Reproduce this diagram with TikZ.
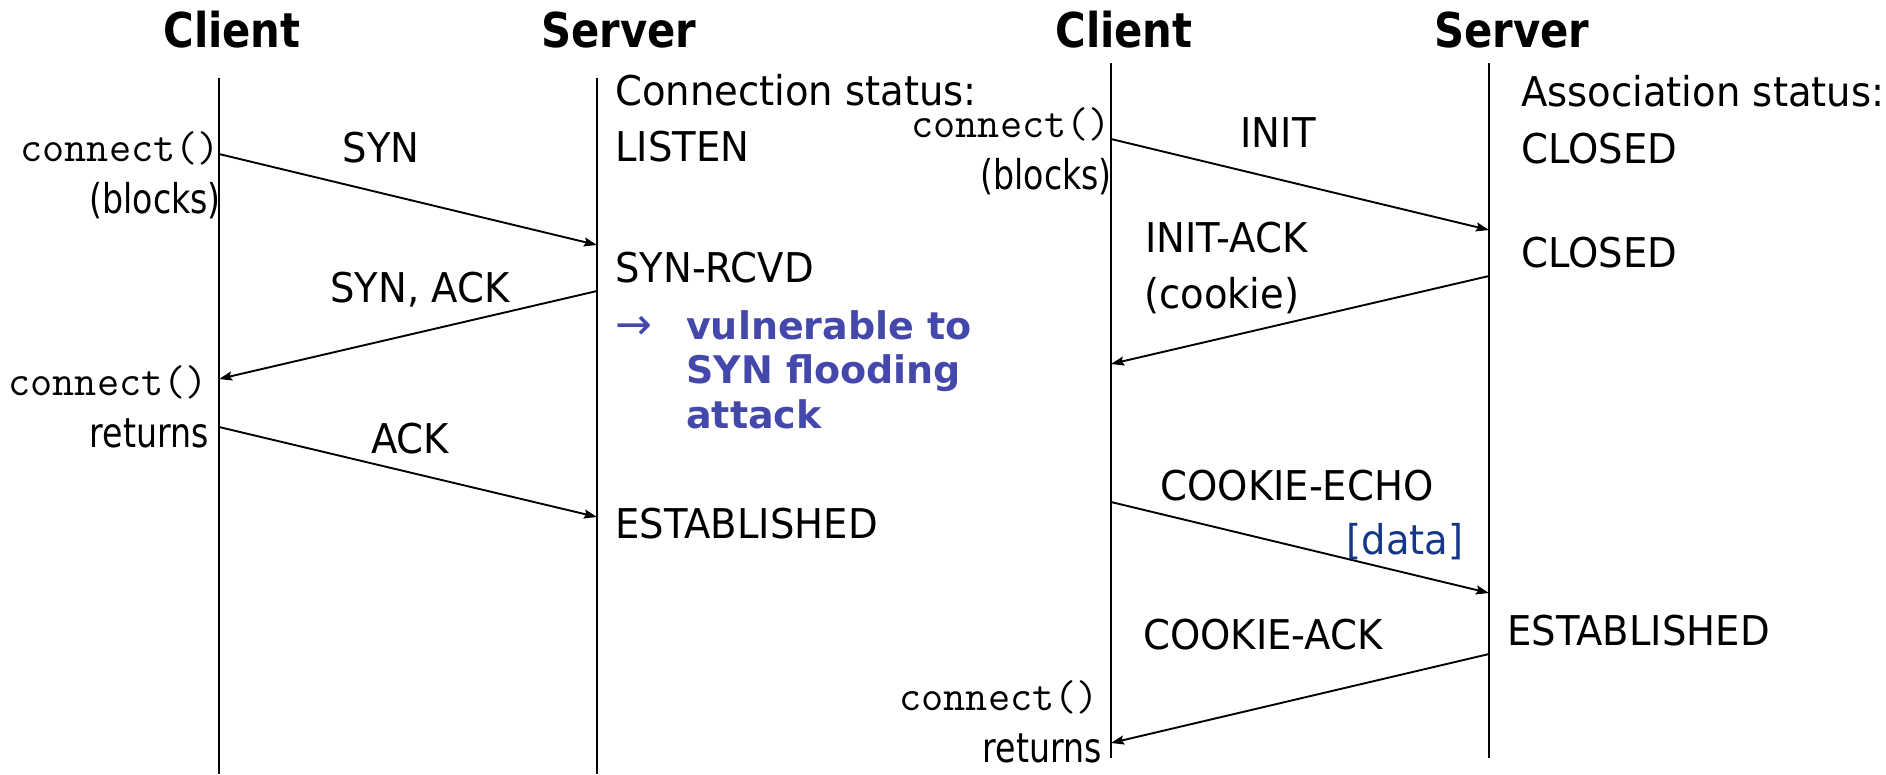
\documentclass[tikz,border=0pt]{standalone}
\usepackage{fontspec}
\setmainfont{DejaVu Sans}[FakeStretch=0.94]
\newfontfamily\lowfont{DejaVu Sans}[FakeStretch=0.81]
\newfontfamily\titlefont{DejaVu Sans}[FakeStretch=0.87]
\newfontfamily\warnfont{DejaVu Sans}[FakeStretch=1.0]
\newfontfamily\symfont{DejaVu Sans}
\usetikzlibrary{arrows.meta}
\definecolor{warnblue}{RGB}{68,72,170}
\definecolor{datablue}{RGB}{20,55,140}
\tikzset{
  txt/.style={inner sep=0pt, font=\fontsize{41}{48}\selectfont},
  lowtxt/.style={inner sep=0pt, font=\lowfont\fontsize{41}{48}\selectfont},
  code/.style={inner sep=0pt, font=\ttfamily\fontsize{43}{50}\selectfont},
  heading/.style={inner sep=0pt, font=\titlefont\bfseries\fontsize{48}{56}\selectfont},
  warn/.style={inner sep=0pt, text=warnblue, font=\warnfont\bfseries\fontsize{38}{44}\selectfont},
  lifeline/.style={line width=1.9pt},
  msg/.style={line width=1.9pt, -{Stealth[length=13pt, width=9pt, inset=2pt]}}
}
\begin{document}
\begin{tikzpicture}[x=1pt, y=-1pt]
\useasboundingbox (0,0) rectangle (1886,774);

% ---------- TCP handshake ----------
\node[heading, anchor=base] (tcpclient) at (232,47) {Client};
\node[heading, anchor=base] (tcpserver) at (619,47) {Server};

\coordinate (tcA) at (219,78);   \coordinate (tcZ) at (219,774);
\coordinate (tsA) at (597,78);   \coordinate (tsZ) at (597,774);
\draw[lifeline] (tcA) -- (tcZ);
\draw[lifeline] (tsA) -- (tsZ);

\coordinate (tc1) at (219,154);  \coordinate (ts1) at (597,245);
\coordinate (ts2) at (597,291);  \coordinate (tc2) at (219,379);
\coordinate (tc3) at (219,427);  \coordinate (ts3) at (597,517);
\draw[msg] (tc1) -- (ts1);
\draw[msg] (ts2) -- (tc2);
\draw[msg] (tc3) -- (ts3);

\node[txt, anchor=base] (syn) at (381,162) {SYN};
\node[txt, anchor=base] (synack) at (420,302) {SYN, ACK};
\node[txt, anchor=base] (ack) at (410,453) {ACK};

\node[code, anchor=base east] (tconn1) at (220,161) {connect()};
\node[lowtxt, anchor=base east] (tblocks) at (221,213) {(blocks)};
\node[code, anchor=base east] (tconn2) at (208,395) {connect()};
\node[lowtxt, anchor=base east] (treturns) at (209,447) {returns};

\node[txt, anchor=base west] (cstatus) at (615,105) {Connection status:};
\node[txt, anchor=base west] (listen) at (615,161) {LISTEN};
\node[txt, anchor=base west] (synrcvd) at (615,282) {SYN-RCVD};
\node[inner sep=0pt, text=warnblue, font=\symfont\fontsize{44}{50}\selectfont, anchor=base west] (warnarrow) at (615,339) {→};
\node[warn, anchor=base west] (warn1) at (686,339) {vulnerable to};
\node[warn, anchor=base west] (warn2) at (686,383) {SYN flooding};
\node[warn, anchor=base west] (warn3) at (686,428) {attack};
\node[txt, anchor=base west] (testab) at (615,538) {ESTABLISHED};

% ---------- SCTP four-way handshake ----------
\node[heading, anchor=base] (sctpclient) at (1124,47) {Client};
\node[heading, anchor=base] (sctpserver) at (1512,47) {Server};

\coordinate (scA) at (1111,63);  \coordinate (scZ) at (1111,758);
\coordinate (ssA) at (1489,63);  \coordinate (ssZ) at (1489,758);
\draw[lifeline] (scA) -- (scZ);
\draw[lifeline] (ssA) -- (ssZ);

\coordinate (sc1) at (1111,139); \coordinate (ss1) at (1489,230);
\coordinate (ss2) at (1489,276); \coordinate (sc2) at (1111,364);
\coordinate (sc3) at (1111,502); \coordinate (ss3) at (1489,593);
\coordinate (ss4) at (1489,654); \coordinate (sc4) at (1111,743);
\draw[msg] (sc1) -- (ss1);
\draw[msg] (ss2) -- (sc2);
\draw[msg] (sc3) -- (ss3);
\draw[msg] (ss4) -- (sc4);

\node[txt, anchor=base] (init) at (1278,147) {INIT};
\node[txt, anchor=base west] (initack) at (1145,252) {INIT-ACK};
\node[txt, anchor=base west] (cookie) at (1144,308) {(cookie)};
\node[txt, anchor=base] (cecho) at (1297,500) {COOKIE-ECHO};
\node[txt, anchor=base, text=datablue] (data) at (1405,554) {[data]};
\node[txt, anchor=base west] (cack) at (1143,649) {COOKIE-ACK};

\node[code, anchor=base east] (sconn1) at (1111,137) {connect()};
\node[lowtxt, anchor=base east] (sblocks) at (1112,189) {(blocks)};
\node[code, anchor=base east] (sconn2) at (1099,710) {connect()};
\node[lowtxt, anchor=base east] (sreturns) at (1102,762) {returns};

\node[txt, anchor=base west] (astatus) at (1521,106) {Association status:};
\node[txt, anchor=base west] (closed1) at (1521,163) {CLOSED};
\node[txt, anchor=base west] (closed2) at (1521,267) {CLOSED};
\node[txt, anchor=base west] (sestab) at (1507,645) {ESTABLISHED};
\end{tikzpicture}
\end{document}
